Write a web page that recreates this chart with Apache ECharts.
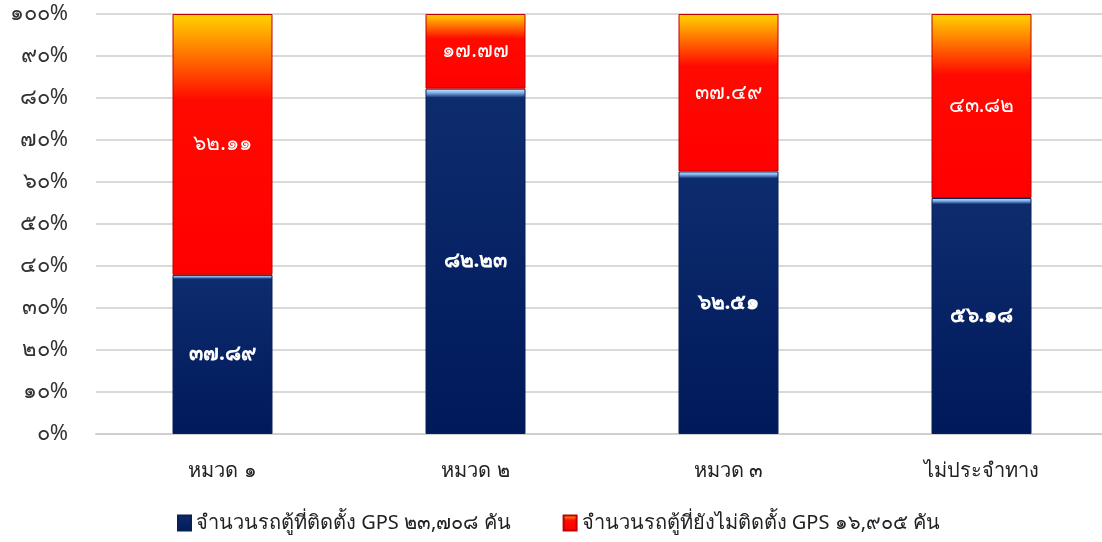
<!DOCTYPE html>
<html><head><meta charset="utf-8">
<script src="https://cdn.jsdelivr.net/npm/echarts@6/dist/echarts.min.js"></script>
<style>html,body{margin:0;padding:0;background:#fff;overflow:hidden}#c{width:1102px;height:542px}</style>
</head><body><div id="c"></div>
<script>
const categories = ['หมวด ๑', 'หมวด ๒', 'หมวด ๓', 'ไม่ประจำทาง'];
const installed = [37.89, 82.23, 62.51, 56.18];
const notInstalled = [62.11, 17.77, 37.49, 43.82];
const seriesNames = ['จำนวนรถตู้ที่ติดตั้ง GPS ๒๓,๗๐๘ คัน', 'จำนวนรถตู้ที่ยังไม่ติดตั้ง GPS ๑๖,๙๐๕ คัน'];

const thaiDigits = '๐๑๒๓๔๕๖๗๘๙';
function toThai(s) { return String(s).replace(/[0-9]/g, d => thaiDigits[+d]); }
const FONT = 'Tahoma, "Noto Sans", "DejaVu Sans", sans-serif';

const blueGrad = new echarts.graphic.LinearGradient(0, 0, 0, 1, [
  {offset: 0, color: '#d6ecff'}, {offset: 0.012, color: '#7fb0e8'},
  {offset: 0.026, color: '#0d2c6e'}, {offset: 1, color: '#00195a'}]);
const redGrad = new echarts.graphic.LinearGradient(0, 0, 0, 1, [
  {offset: 0, color: '#ffd400'}, {offset: 0.12, color: '#ff8a00'},
  {offset: 0.33, color: '#ff0a00'}, {offset: 1, color: '#ff0000'}]);

const chart = echarts.init(document.getElementById('c'), null, {renderer: 'canvas'});
chart.setOption({
  animation: false,
  textStyle: {fontFamily: FONT},
  grid: {left: 96, right: -6, top: 14, bottom: 108, outerBoundsMode: 'none', containLabel: false},
  legend: {
    bottom: 4, left: 172, itemGap: 52, icon: 'rect', itemWidth: 13, itemHeight: 15,
    textStyle: {fontSize: 20, color: '#222', fontFamily: FONT},
    data: [{name: seriesNames[0], itemStyle: {color: blueGrad}}, {name: seriesNames[1], itemStyle: {color: redGrad}}]
  },
  xAxis: {
    type: 'category', data: categories,
    axisLine: {lineStyle: {color: '#cfcfcf', width: 2}},
    axisTick: {show: false},
    axisLabel: {fontSize: 20, color: '#222', margin: 27, fontFamily: FONT}
  },
  yAxis: {
    type: 'value', min: 0, max: 100, interval: 10,
    axisLine: {show: false}, axisTick: {show: false},
    splitLine: {lineStyle: {color: '#d9d9d9', width: 2}},
    axisLabel: {fontSize: 22, color: '#333', margin: 28, fontFamily: FONT, formatter: v => toThai(v) + '%'}
  },
  series: [
    {
      name: seriesNames[0], type: 'bar', stack: 't', barWidth: 100, data: installed,
      itemStyle: {color: blueGrad, borderColor: '#0a1f55', borderWidth: 1},
      label: {show: true, position: 'inside', color: '#fff', fontWeight: 'bold', fontSize: 21, fontFamily: FONT,
        formatter: p => toThai(p.value.toFixed(2))}
    },
    {
      name: seriesNames[1], type: 'bar', stack: 't', barWidth: 100, data: notInstalled,
      itemStyle: {color: redGrad, borderColor: '#c00000', borderWidth: 1},
      label: {show: true, position: 'inside', color: '#fff', fontSize: 21, fontFamily: FONT,
        formatter: p => toThai(p.value.toFixed(2))}
    }
  ]
});
</script></body></html>
